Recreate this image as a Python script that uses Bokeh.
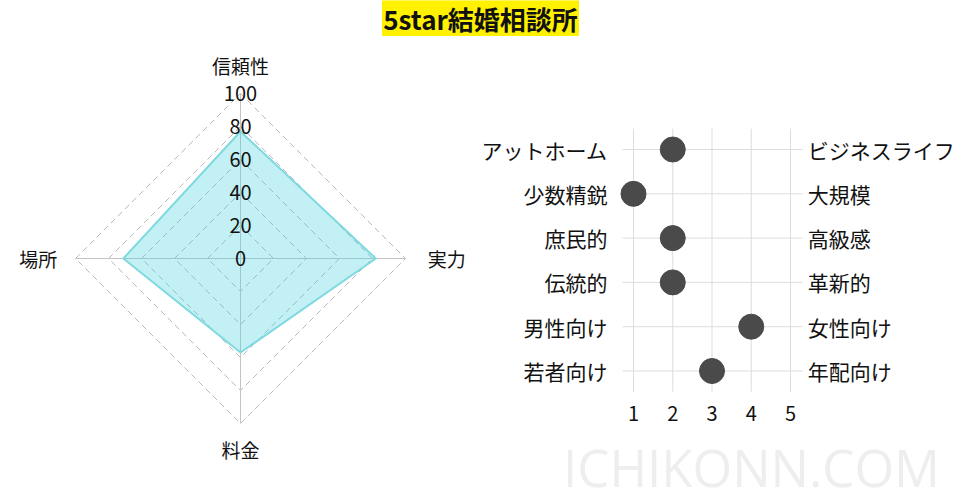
import math
from bokeh.plotting import figure
from bokeh.models import Range1d
from bokeh.embed import file_html
from bokeh.resources import INLINE
from bokeh.core.properties import value

FONT = "Noto Sans CJK JP"

# ---------------- data ----------------
title_text = "5star結婚相談所"

radar_categories = ["信頼性", "実力", "料金", "場所"]
radar_values = [77, 82, 57, 71]
radar_ticks = [0, 20, 40, 60, 80, 100]

left_labels = ["アットホーム", "少数精鋭", "庶民的", "伝統的", "男性向け", "若者向け"]
right_labels = ["ビジネスライフ", "大規模", "高級感", "革新的", "女性向け", "年配向け"]
scores = [2, 1, 2, 2, 4, 3]
score_ticks = [1, 2, 3, 4, 5]

watermark = "ICHIKONN.COM"

# ---------------- canvas (page-pixel main ranges) ----------------
PX0, PX1, PY0, PY1 = 0, 958, 0, 502
p = figure(width=PX1 - PX0, height=PY1 - PY0,
           x_range=Range1d(PX0, PX1), y_range=Range1d(PY1, PY0),
           toolbar_location=None, output_backend="svg", min_border=0,
           x_axis_location=None, y_axis_location=None)
p.grid.visible = False
p.outline_line_color = None
p.background_fill_color = "white"
p.border_fill_color = "white"

# radar scale: value 0 at (240, 258), 1 unit = 1.65 px
RCX, RCY, RS = 240, 258, 1.65
# dot-plot scale: score 1 at x=633, 39.25 px / unit ; row 0 at y=149, 44.3 px / row
DX1, DK, DY0, DRK = 633, 39.25, 149, 44.3

p.extra_x_ranges = {
    "radar": Range1d(-(RCX - PX0) / RS, (PX1 - RCX) / RS),
    "dot": Range1d(1 - (DX1 - PX0) / DK, 1 + (PX1 - DX1) / DK),
}
p.extra_y_ranges = {
    "radar": Range1d(-(PY1 - RCY) / RS, (RCY - PY0) / RS),
    "dot": Range1d((PY1 - DY0) / DRK, (PY0 - DY0) / DRK),
}

# ---------------- title ----------------
p.quad(left=382, right=578, top=0, bottom=35, color="#fff100")
p.text(x=[480], y=[18], text=[title_text], text_align="center", text_baseline="middle",
       text_font=value(FONT), text_font_size="26px", text_font_style="bold",
       text_color="#111111")

# ---------------- radar ----------------
R = dict(x_range_name="radar", y_range_name="radar")
n = len(radar_categories)
angles = [math.pi / 2 - i * 2 * math.pi / n for i in range(n)]
rmax = radar_ticks[-1]

ring_xs, ring_ys = [], []
for t in radar_ticks[1:]:
    xs = [t * math.cos(a) for a in angles]
    ys = [t * math.sin(a) for a in angles]
    ring_xs.append(xs + [xs[0]])
    ring_ys.append(ys + [ys[0]])
p.multi_line(ring_xs, ring_ys, line_color="#b8b8b8", line_dash="6 4", line_width=1, **R)

p.segment(x0=[0] * n, y0=[0] * n,
          x1=[rmax * math.cos(a) for a in angles],
          y1=[rmax * math.sin(a) for a in angles],
          line_color="#c4c4c4", line_width=1, **R)

vx = [v * math.cos(a) for v, a in zip(radar_values, angles)]
vy = [v * math.sin(a) for v, a in zip(radar_values, angles)]
p.patch(vx, vy, fill_color="#40d0dc", fill_alpha=0.32,
        line_color="#7ed9e0", line_width=2, **R)

p.text(x=[0] * len(radar_ticks), y=radar_ticks, text=[str(t) for t in radar_ticks],
       text_align="center", text_baseline="middle", text_font=value(FONT),
       text_font_size="20px", text_color="#111111", **R)

for cat, a in zip(radar_categories, angles):
    c, s = math.cos(a), math.sin(a)
    if abs(c) < 0.3:
        align = "center"
        base = "bottom" if s > 0 else "top"
        lr = 109 if s > 0 else 107.5
    else:
        align = "left" if c > 0 else "right"
        base = "middle"
        lr = 113.5 if c > 0 else 111
    p.text(x=[lr * c], y=[lr * s], text=[cat], text_align=align, text_baseline=base,
           text_font=value(FONT), text_font_size="19px", text_color="#111111", **R)

# ---------------- dot plot ----------------
D = dict(x_range_name="dot", y_range_name="dot")
nrows = len(left_labels)
rows = list(range(nrows))
x_lo, x_hi = 0.72, 5.31
y_lo, y_hi = -0.47, nrows - 1 + 0.47

p.segment(x0=score_ticks, x1=score_ticks, y0=[y_lo] * len(score_ticks),
          y1=[y_hi] * len(score_ticks), line_color="#dddddd", line_width=1, **D)
p.segment(x0=[x_lo] * nrows, x1=[x_hi] * nrows, y0=rows, y1=rows,
          line_color="#dddddd", line_width=1, **D)

p.scatter(x=scores, y=rows, size=25, color="#4a4a4a", **D)

p.text(x=[x_lo - 15 / DK] * nrows, y=rows, text=left_labels, text_align="right",
       text_baseline="middle", text_font=value(FONT), text_font_size="21px",
       text_color="#111111", **D)
p.text(x=[x_hi + 5 / DK] * nrows, y=rows, text=right_labels, text_align="left",
       text_baseline="middle", text_font=value(FONT), text_font_size="21px",
       text_color="#111111", **D)
p.text(x=score_ticks, y=[y_hi + 22 / DRK] * len(score_ticks),
       text=[str(t) for t in score_ticks], text_align="center", text_baseline="middle",
       text_font=value(FONT), text_font_size="20px", text_color="#111111", **D)

# ---------------- watermark ----------------
p.text(x=[751], y=[466], text=[watermark], text_align="center", text_baseline="middle",
       text_font=value("Open Sans"), text_font_size="51px", text_color="#eeeeee")

open("out.html", "w").write(file_html(p, INLINE))
